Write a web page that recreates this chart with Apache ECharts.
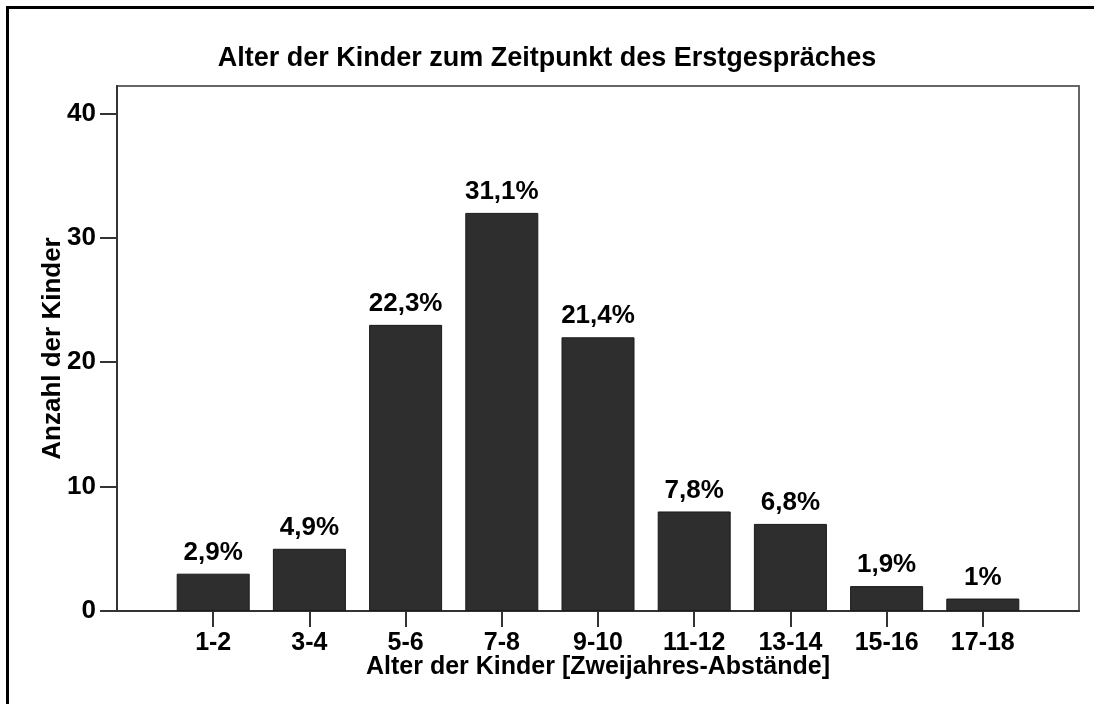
<!DOCTYPE html>
<html>
<head>
<meta charset="utf-8">
<script src="https://cdn.jsdelivr.net/npm/echarts@6/dist/echarts.min.js"></script>
<style>
  html, body { margin: 0; padding: 0; background: #fff; }
  #app { width: 1094px; height: 704px; }
</style>
</head>
<body>
<div id="app"></div>
<script>
const ageGroups = ['1-2', '3-4', '5-6', '7-8', '9-10', '11-12', '13-14', '15-16', '17-18'];
const childCounts = [3, 5, 23, 32, 22, 8, 7, 2, 1];
const percentLabels = ['2,9%', '4,9%', '22,3%', '31,1%', '21,4%', '7,8%', '6,8%', '1,9%', '1%'];
const yTicks = [0, 10, 20, 30, 40];

// an empty slot on each side gives the full-band margin of the original
const cats = [''].concat(ageGroups, ['']);
const vals = [null].concat(childCounts, [null]);

const font = 'Liberation Sans, Arial, sans-serif';
const txt = { color: '#000', fontWeight: 'bold', fontFamily: font, fontSize: 26 };
const txtX = Object.assign({}, txt, { fontSize: 25 });

const chart = echarts.init(document.getElementById('app'));

const option = {
  backgroundColor: '#fff',
  animation: false,
  title: {
    text: 'Alter der Kinder zum Zeitpunkt des Erstgespräches',
    left: 'center',
    top: 40,
    textStyle: Object.assign({}, txt, { fontSize: 27 }),
  },
  graphic: [
    {
      type: 'polyline',
      shape: { points: [[7.5, 704], [7.5, 7.5], [1094, 7.5]] },
      style: { stroke: '#000', lineWidth: 3, fill: null },
    },
  ],
  grid: {
    left: 117,
    right: 15,
    top: 86,
    bottom: 93,
    show: true,
    borderColor: '#666',
    borderWidth: 2,
  },
  xAxis: {
    type: 'category',
    data: cats,
    boundaryGap: false,
    name: 'Alter der Kinder [Zweijahres-Abstände]',
    nameLocation: 'middle',
    nameGap: 44,
    nameMoveOverlap: false,
    nameTextStyle: txtX,
    axisLine: { lineStyle: { color: '#333', width: 2 } },
    axisTick: {
      length: 16,
      lineStyle: { color: '#333', width: 2 },
      interval: function (idx) { return idx > 0 && idx < cats.length - 1; },
    },
    axisLabel: Object.assign({}, txtX, { interval: 0, margin: 20 }),
    splitLine: { show: false },
  },
  yAxis: {
    type: 'value',
    min: 0,
    max: 42.2,
    name: 'Anzahl der Kinder',
    nameLocation: 'middle',
    nameGap: 51,
    nameMoveOverlap: false,
    nameTextStyle: txt,
    axisLine: { show: true, lineStyle: { color: '#333', width: 2 } },
    axisTick: { show: true, length: 17, lineStyle: { color: '#333', width: 2 }, customValues: yTicks },
    axisLabel: Object.assign({}, txt, { margin: 21, customValues: yTicks }),
    splitLine: { show: false },
  },
  series: [
    {
      type: 'bar',
      data: vals,
      barWidth: 73,
      itemStyle: { color: '#2e2e2e', borderColor: '#1a1a1a', borderWidth: 1 },
      label: Object.assign({}, txt, {
        show: true,
        position: 'top',
        distance: 8,
        formatter: function (p) { return percentLabels[p.dataIndex - 1]; },
      }),
    },
  ],
};
chart.setOption(option);
</script>
</body>
</html>
